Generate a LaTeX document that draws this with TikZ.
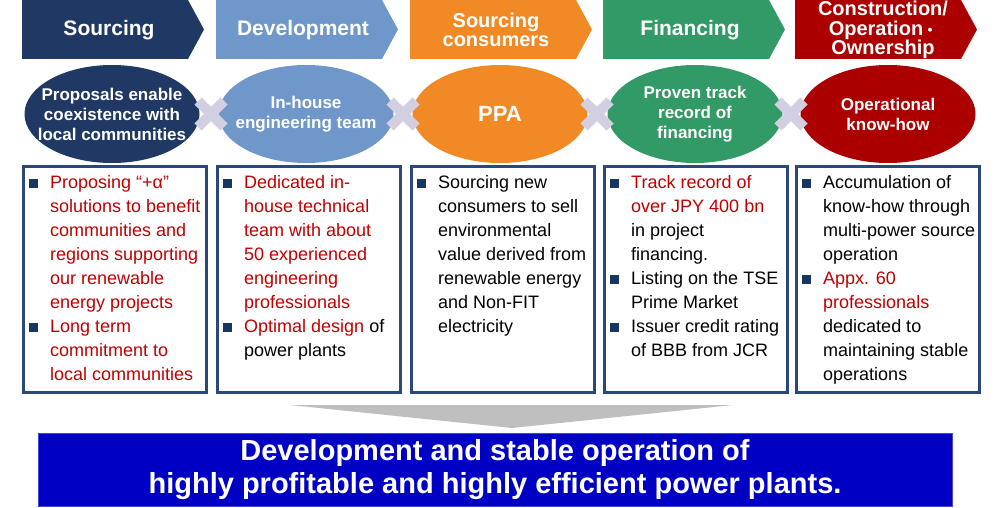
\documentclass[tikz,border=0pt]{standalone}
\usepackage{fontspec}
\setmainfont{Liberation Sans}
\newfontfamily\cjk{Noto Sans CJK JP}
\definecolor{cnavy}{RGB}{31,56,100}
\definecolor{cdev}{RGB}{112,151,201}
\definecolor{corange}{RGB}{241,138,36}
\definecolor{cgreen}{RGB}{50,154,102}
\definecolor{cred}{RGB}{172,0,0}
\definecolor{cxx}{RGB}{210,207,226}
\definecolor{cborder}{RGB}{44,72,122}
\definecolor{ctext}{RGB}{192,0,0}
\definecolor{cbul}{RGB}{23,55,94}
\definecolor{cbanner}{RGB}{0,0,196}
\definecolor{cbanedge}{RGB}{70,70,215}
\definecolor{ctri}{RGB}{191,191,191}
\newcommand{\bitem}[1]{\par\noindent\hangindent=21pt\hangafter=1\makebox[21pt][l]{\textcolor{cbul}{\rule{9pt}{9pt}}}#1\par}
\newcommand{\rd}[1]{\textcolor{ctext}{#1}}
\newcommand{\chev}[2]{\fill[#2] (#1,0) -- ++(166,0) -- ++(16,29.5) -- ++(-16,29.5) -- ++(-166,0) -- cycle;}
\newcommand{\xmark}[1]{\draw[xline] (#1-13,101) -- (#1+13,127) (#1-13,127) -- (#1+13,101);}
\newcommand{\myoval}[2]{\fill[#2] (#1,114) ellipse [x radius=87.5, y radius=49];}
\tikzset{
  htext/.style={text=white, font=\bfseries\fontsize{21}{19.5}\selectfont, align=center, inner sep=0},
  htextm/.style={text=white, font=\bfseries\fontsize{20}{19.5}\selectfont, align=center, inner sep=0},
  otext/.style={inner sep=0, text=white, align=center, font=\bfseries\fontsize{17}{20}\selectfont},
  xline/.style={cxx, line width=10pt},
  boxframe/.style={draw=cborder, line width=2.5pt, minimum width=183, minimum height=226, anchor=north west, inner sep=0},
  boxtext/.style={anchor=base west, inner sep=0},
  banner/.style={fill=cbanner, draw=cbanedge, line width=0.8pt, minimum width=914, minimum height=73, inner sep=0, text=white, align=center, font=\bfseries\fontsize{29}{33}\selectfont}
}
\begin{document}
\begin{tikzpicture}[x=1pt,y=-1pt]
\useasboundingbox (0,0) rectangle (1000,508);
% header chevrons
\chev{22}{cnavy}
\chev{216}{cdev}
\chev{410}{corange}
\chev{603}{cgreen}
\chev{795}{cred}
\node[htext] (h1) at (109,30) {Sourcing};
\node[htext] (h2) at (303,30) {Development};
\node[htextm] (h3) at (496,30) {Sourcing\\consumers};
\node[htext] (h4) at (690,30) {Financing};
\node[htextm] (h5) at (883,30) {Construction/\\Operation{\cjk\fontsize{14}{14}\selectfont ・}\\Ownership};
% ellipses
\myoval{112}{cnavy}
\myoval{306}{cdev}
\myoval{500}{corange}
\myoval{695}{cgreen}
\myoval{888}{cred}
\node[otext] (e1) at (112,114) {Proposals enable\\coexistence with\\local communities};
\node[otext] (e2) at (306,114) {In-house\\engineering team};
\node[otext, font=\bfseries\fontsize{22}{24}\selectfont] (e3) at (500,114) {PPA};
\node[otext] (e4) at (695,114) {Proven track\\record of\\financing};
\node[otext] (e5) at (888,114) {Operational\\know-how};
% crosses
\xmark{211}
\xmark{403}
\xmark{597}
\xmark{791}
% boxes
\node[boxframe] (b1) at (22,165) {};
\node[boxframe] (b2) at (216,165) {};
\node[boxframe] (b3) at (410,165) {};
\node[boxframe] (b4) at (603,165) {};
\node[boxframe] (b5) at (795,165) {};
\node[boxtext] (t1) at (29,188) {\begin{minipage}[t]{178pt}\raggedright\fontsize{18}{24}\selectfont
\bitem{\rd{Proposing “+α”\newline solutions to benefit\newline communities and\newline regions supporting\newline our renewable\newline energy projects}}
\bitem{\rd{Long term\newline commitment to\newline local communities}}
\end{minipage}};
\node[boxtext] (t2) at (223,188) {\begin{minipage}[t]{178pt}\raggedright\fontsize{18}{24}\selectfont
\bitem{\rd{Dedicated in-\newline house technical\newline team with about\newline 50 experienced\newline engineering\newline professionals}}
\bitem{\rd{Optimal design} of\newline power plants}
\end{minipage}};
\node[boxtext] (t3) at (417,188) {\begin{minipage}[t]{178pt}\raggedright\fontsize{18}{24}\selectfont
\bitem{Sourcing new\newline consumers to sell\newline environmental\newline value derived from\newline renewable energy\newline and Non-FIT\newline electricity}
\end{minipage}};
\node[boxtext] (t4) at (610,188) {\begin{minipage}[t]{178pt}\raggedright\fontsize{18}{24}\selectfont
\bitem{\rd{Track record of\newline over JPY 400 bn}\newline in project\newline financing.}
\bitem{Listing on the TSE\newline Prime Market}
\bitem{Issuer credit rating\newline of BBB from JCR}
\end{minipage}};
\node[boxtext] (t5) at (802,188) {\begin{minipage}[t]{178pt}\raggedright\fontsize{18}{24}\selectfont
\bitem{Accumulation of\newline know-how through\newline multi-power source\newline operation}
\bitem{\rd{Appx. 60\newline professionals}\newline dedicated to\newline maintaining stable\newline operations}
\end{minipage}};
% down arrow
\fill[ctri] (290,405) -- (733,405) -- (512,428) -- cycle;
% banner
\node[banner] (ban) at (495,469.5) {Development and stable operation of\\highly profitable and highly efficient power plants.};
\end{tikzpicture}
\end{document}
